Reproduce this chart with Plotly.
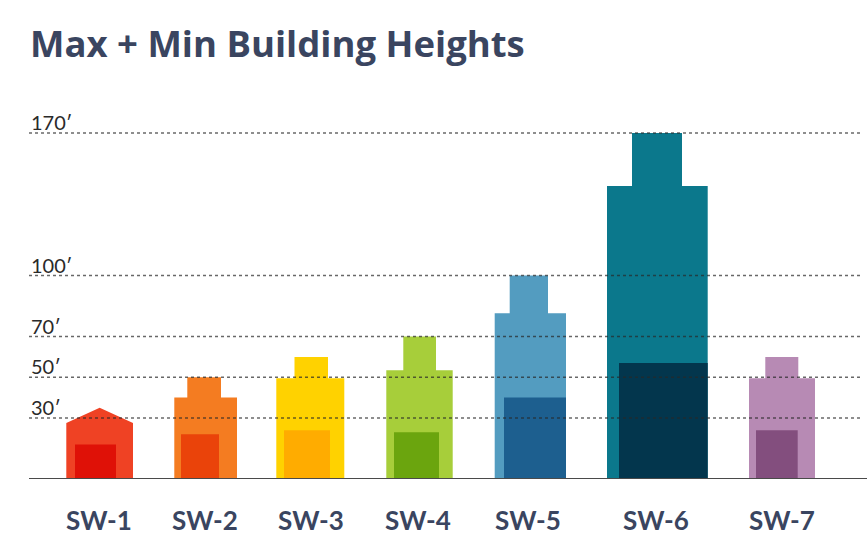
import plotly.graph_objects as go

# ---------------- data ----------------
categories = ["SW-1", "SW-2", "SW-3", "SW-4", "SW-5", "SW-6", "SW-7"]
max_height = [35, 50, 60, 70, 100, 170, 60]            # top of tower / roof peak (ft)
body_height = [27.5, 40, 49.5, 53.5, 81.5, 144, 49.5]  # main body height (ft)
min_height = [17, 22, 24, 23, 40, 57, 24]              # minimum height (ft)
grid_values = [30, 50, 70, 100, 170]
grid_labels = ["30′", "50′", "70′", "100′", "170′"]

# ---------------- layout / style ----------------
# horizontal geometry of each building (x axis units)
body_span = [(66.3, 133), (174.3, 237), (276.3, 344.3), (386.3, 452.7), (494.7, 566), (607, 707.7), (749, 815)]
tower_span = [None, (187.3, 221), (294.5, 328), (403.3, 436), (509.7, 548), (632, 682), (765.3, 798.3)]
inner_span = [(75, 116), (181, 219), (284, 330), (394, 439), (504, 566), (619, 707.7), (756, 797.7)]
label_pos = [99, 205, 311, 418, 528, 656, 782]

outer_colors = ["#ef4224", "#f47c21", "#ffd200", "#a7ce3a", "#539cc0", "#0b788c", "#b78ab4"]
inner_colors = ["#df1107", "#ea430a", "#ffac00", "#6ba50e", "#1d5f8f", "#03364d", "#834e7e"]

W, H = 867, 556
TOP, BOTTOM = 100, 77
PX_PER_FT = 2.035
y_top = (H - TOP - BOTTOM) / PX_PER_FT

fig = go.Figure()

# building silhouettes
for i, cat in enumerate(categories):
    l, r = body_span[i]
    if tower_span[i] is None:  # gable roof
        c = (l + r) / 2
        xs = [l, l, c, r, r, l]
        ys = [0, body_height[i], max_height[i], body_height[i], 0, 0]
    else:
        tl, tr = tower_span[i]
        xs = [l, l, tl, tl, tr, tr, r, r, l]
        ys = [0, body_height[i], body_height[i], max_height[i], max_height[i],
              body_height[i], body_height[i], 0, 0]
    fig.add_trace(go.Scatter(x=xs, y=ys, mode="lines", fill="toself",
                             fillcolor=outer_colors[i], line=dict(width=0),
                             hoverinfo="skip", showlegend=False))

# inner (min height) blocks
for i, cat in enumerate(categories):
    a, b = inner_span[i]
    fig.add_trace(go.Scatter(x=[a, a, b, b, a], y=[0, min_height[i], min_height[i], 0, 0],
                             mode="lines", fill="toself", fillcolor=inner_colors[i],
                             line=dict(width=0), hoverinfo="skip", showlegend=False))

# dashed reference lines
for v in grid_values:
    fig.add_shape(type="line", xref="x", yref="y", x0=29, x1=862, y0=v, y1=v,
                  line=dict(color="rgba(40,40,40,0.7)", width=1.5, dash="3px,3px"),
                  layer="above")
# baseline
fig.add_shape(type="line", xref="x", yref="y", x0=29, x1=867, y0=0, y1=0,
              line=dict(color="#4a4a4a", width=2), layer="above")

for v, t in zip(grid_values, grid_labels):
    fig.add_annotation(x=29, y=v, xref="x", yref="y", text=t, showarrow=False,
                       xanchor="left", yanchor="bottom", yshift=-3,
                       font=dict(family="Lato", size=20, color="#2a2a2a"))

fig.update_layout(
    width=W, height=H,
    margin=dict(l=0, r=0, t=TOP, b=BOTTOM),
    plot_bgcolor="white", paper_bgcolor="white",
    title=dict(text="<b>Max + Min Building Heights</b>", x=30 / W, xanchor="left",
               xref="paper", yref="container", y=1 - 44 / H, yanchor="middle",
               font=dict(family="Open Sans", size=36.5, color="#3a4560")),
    xaxis=dict(range=[0, W], showgrid=False, zeroline=False, showline=False,
               tickmode="array", tickvals=label_pos, ticktext=categories,
               ticks="", ticklabelstandoff=24,
               tickfont=dict(family="Lato", size=26, color="#3a4560", weight="bold"),
               fixedrange=True),
    yaxis=dict(range=[0, y_top], showgrid=False, zeroline=False, showline=False,
               showticklabels=False, ticks="", fixedrange=True),
)

fig.write_html("out.html")
